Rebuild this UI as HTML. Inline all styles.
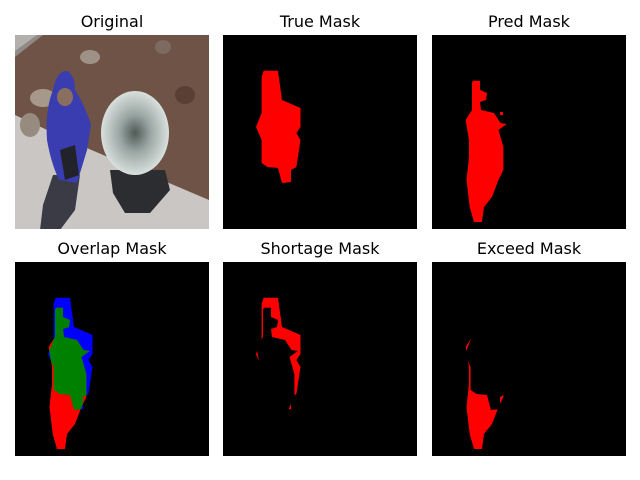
<!DOCTYPE html>
<html><head><meta charset="utf-8"><style>
html,body{margin:0;padding:0;background:#fff;}
svg{display:block;}
text{font-family:"DejaVu Sans","Liberation Sans",sans-serif;font-size:16px;fill:#000;}
</style></head><body>
<svg id="fig" width="640" height="480" viewBox="0 0 640 480">
<defs>
<radialGradient id="plantG" cx="50%" cy="50%" r="50%">
<stop offset="0" stop-color="#4f5a57"/><stop offset="0.45" stop-color="#9aa6a3"/><stop offset="1" stop-color="#d9e0de"/>
</radialGradient>
</defs>
<g>
<text x="112" y="27" text-anchor="middle">Original</text>
<svg x="15" y="35" width="194" height="194" viewBox="0 0 194 194">
<rect width="194" height="194" fill="#6e5346"/>
<polygon points="0,0 28,0 0,22" fill="#8f8a86"/>
<polygon points="0,0 22,0 0,16" fill="#b3afab"/>
<polygon points="0,80 60,108 194,165 194,194 0,194" fill="#c9c6c3"/>
<ellipse cx="28" cy="63" rx="13" ry="9" fill="#a7988c"/>
<ellipse cx="15" cy="90" rx="10" ry="12" fill="#978a7f"/>
<ellipse cx="75" cy="22" rx="10" ry="7" fill="#a09186"/>
<ellipse cx="148" cy="12" rx="8" ry="7" fill="#7d6a60"/>
<ellipse cx="170" cy="60" rx="10" ry="9" fill="#5a3f34"/>
<polygon points="38,140 65,140 60,175 45,195 25,195 28,170" fill="#3a3b45"/>
<polygon points="95,135 150,135 155,155 135,178 110,178 98,158" fill="#2b2d31"/>
<ellipse cx="120" cy="98" rx="34" ry="42" fill="url(#plantG)"/>
<path d="M38,55 Q42,35 52,36 Q60,40 60,55 Q70,70 76,90 L72,115 Q66,135 62,148 L44,145 Q36,128 32,105 Q30,75 38,55Z" fill="#3a3db0"/>
<ellipse cx="50" cy="62" rx="8" ry="9" fill="#8a6e60"/>
<polygon points="45,115 60,110 64,140 50,145" fill="#22222a"/>
</svg>
</g>
<g>
<text x="320" y="27" text-anchor="middle">True Mask</text>
<svg id="pTrue" x="223" y="35" width="194" height="194" viewBox="0 0 194 194"><rect width="194" height="194" fill="#000"/></svg>
</g>
<g>
<text x="529" y="27" text-anchor="middle">Pred Mask</text>
<svg id="pPred" x="432" y="35" width="194" height="194" viewBox="0 0 194 194"><rect width="194" height="194" fill="#000"/></svg>
</g>
<g>
<text x="112" y="254" text-anchor="middle">Overlap Mask</text>
<svg id="pOver" x="15" y="262" width="194" height="194" viewBox="0 0 194 194"><rect width="194" height="194" fill="#000"/></svg>
</g>
<g>
<text x="320" y="254" text-anchor="middle">Shortage Mask</text>
<svg id="pShort" x="223" y="262" width="194" height="194" viewBox="0 0 194 194"><rect width="194" height="194" fill="#000"/></svg>
</g>
<g>
<text x="529" y="254" text-anchor="middle">Exceed Mask</text>
<svg id="pExc" x="432" y="262" width="194" height="194" viewBox="0 0 194 194"><rect width="194" height="194" fill="#000"/></svg>
</g>
</svg>
<script>
const truePolyX=[40.6,55,59,77.5,77.5,73.4,77.5,73.4,68,68,59,55,44.7,38.6,38.6,33,38.6,38.6];
const truePolyY=[35.7,35.7,65,73,92,98,105,132,135,147,148,133,132,128,105,92,78,42];
const predPolyX=[41,48,48,55,54,48,49,62,68.5,74.7,66.5,68.5,71.4,71.4,66.5,60,52,50,42,37.7,34.5,37,37,33.6,40,40];
const predPolyY=[45.7,45.7,55,58,65,67,75,78,88,89,95,102,112,135,145,162,172,187,187,172,145,122,105,85,75,48];
const NS='http://www.w3.org/2000/svg';
function pts(xs,ys){return xs.map((x,i)=>x+','+ys[i]).join(' ');}
function poly(parent,xs,ys,fill,name){
  const p=document.createElementNS(NS,'polygon');
  p.setAttribute('points',pts(xs,ys));p.setAttribute('fill',fill);
  
  
  parent.appendChild(p);return p;
}
const T=document.getElementById('pTrue'),P=document.getElementById('pPred'),O=document.getElementById('pOver'),S=document.getElementById('pShort'),E=document.getElementById('pExc');
poly(T,truePolyX,truePolyY,'#ff0000','true-mask-region');
poly(P,predPolyX,predPolyY,'#ff0000','pred-mask-region');
const dot=document.createElementNS(NS,'rect');
dot.setAttribute('x',68);dot.setAttribute('y',77);dot.setAttribute('width',3);dot.setAttribute('height',3);dot.setAttribute('fill','#ff0000');


P.appendChild(dot);
const cp=document.createElementNS(NS,'clipPath');cp.setAttribute('id','clipTrue');
poly(cp,truePolyX,truePolyY,'#fff','clip-true');
O.appendChild(cp);
poly(O,truePolyX,truePolyY,'#0000ff','overlap-true-only');
poly(O,predPolyX,predPolyY,'#ff0000','overlap-pred-only');
const g=poly(O,predPolyX,predPolyY,'#008000','overlap-intersection');
g.setAttribute('clip-path','url(#clipTrue)');
poly(S,truePolyX,truePolyY,'#ff0000','shortage-region');
poly(S,predPolyX,predPolyY,'#000000','shortage-mask-cutout');
poly(E,predPolyX,predPolyY,'#ff0000','exceed-region');
poly(E,truePolyX,truePolyY,'#000000','exceed-mask-cutout');
</script>
</body></html>
